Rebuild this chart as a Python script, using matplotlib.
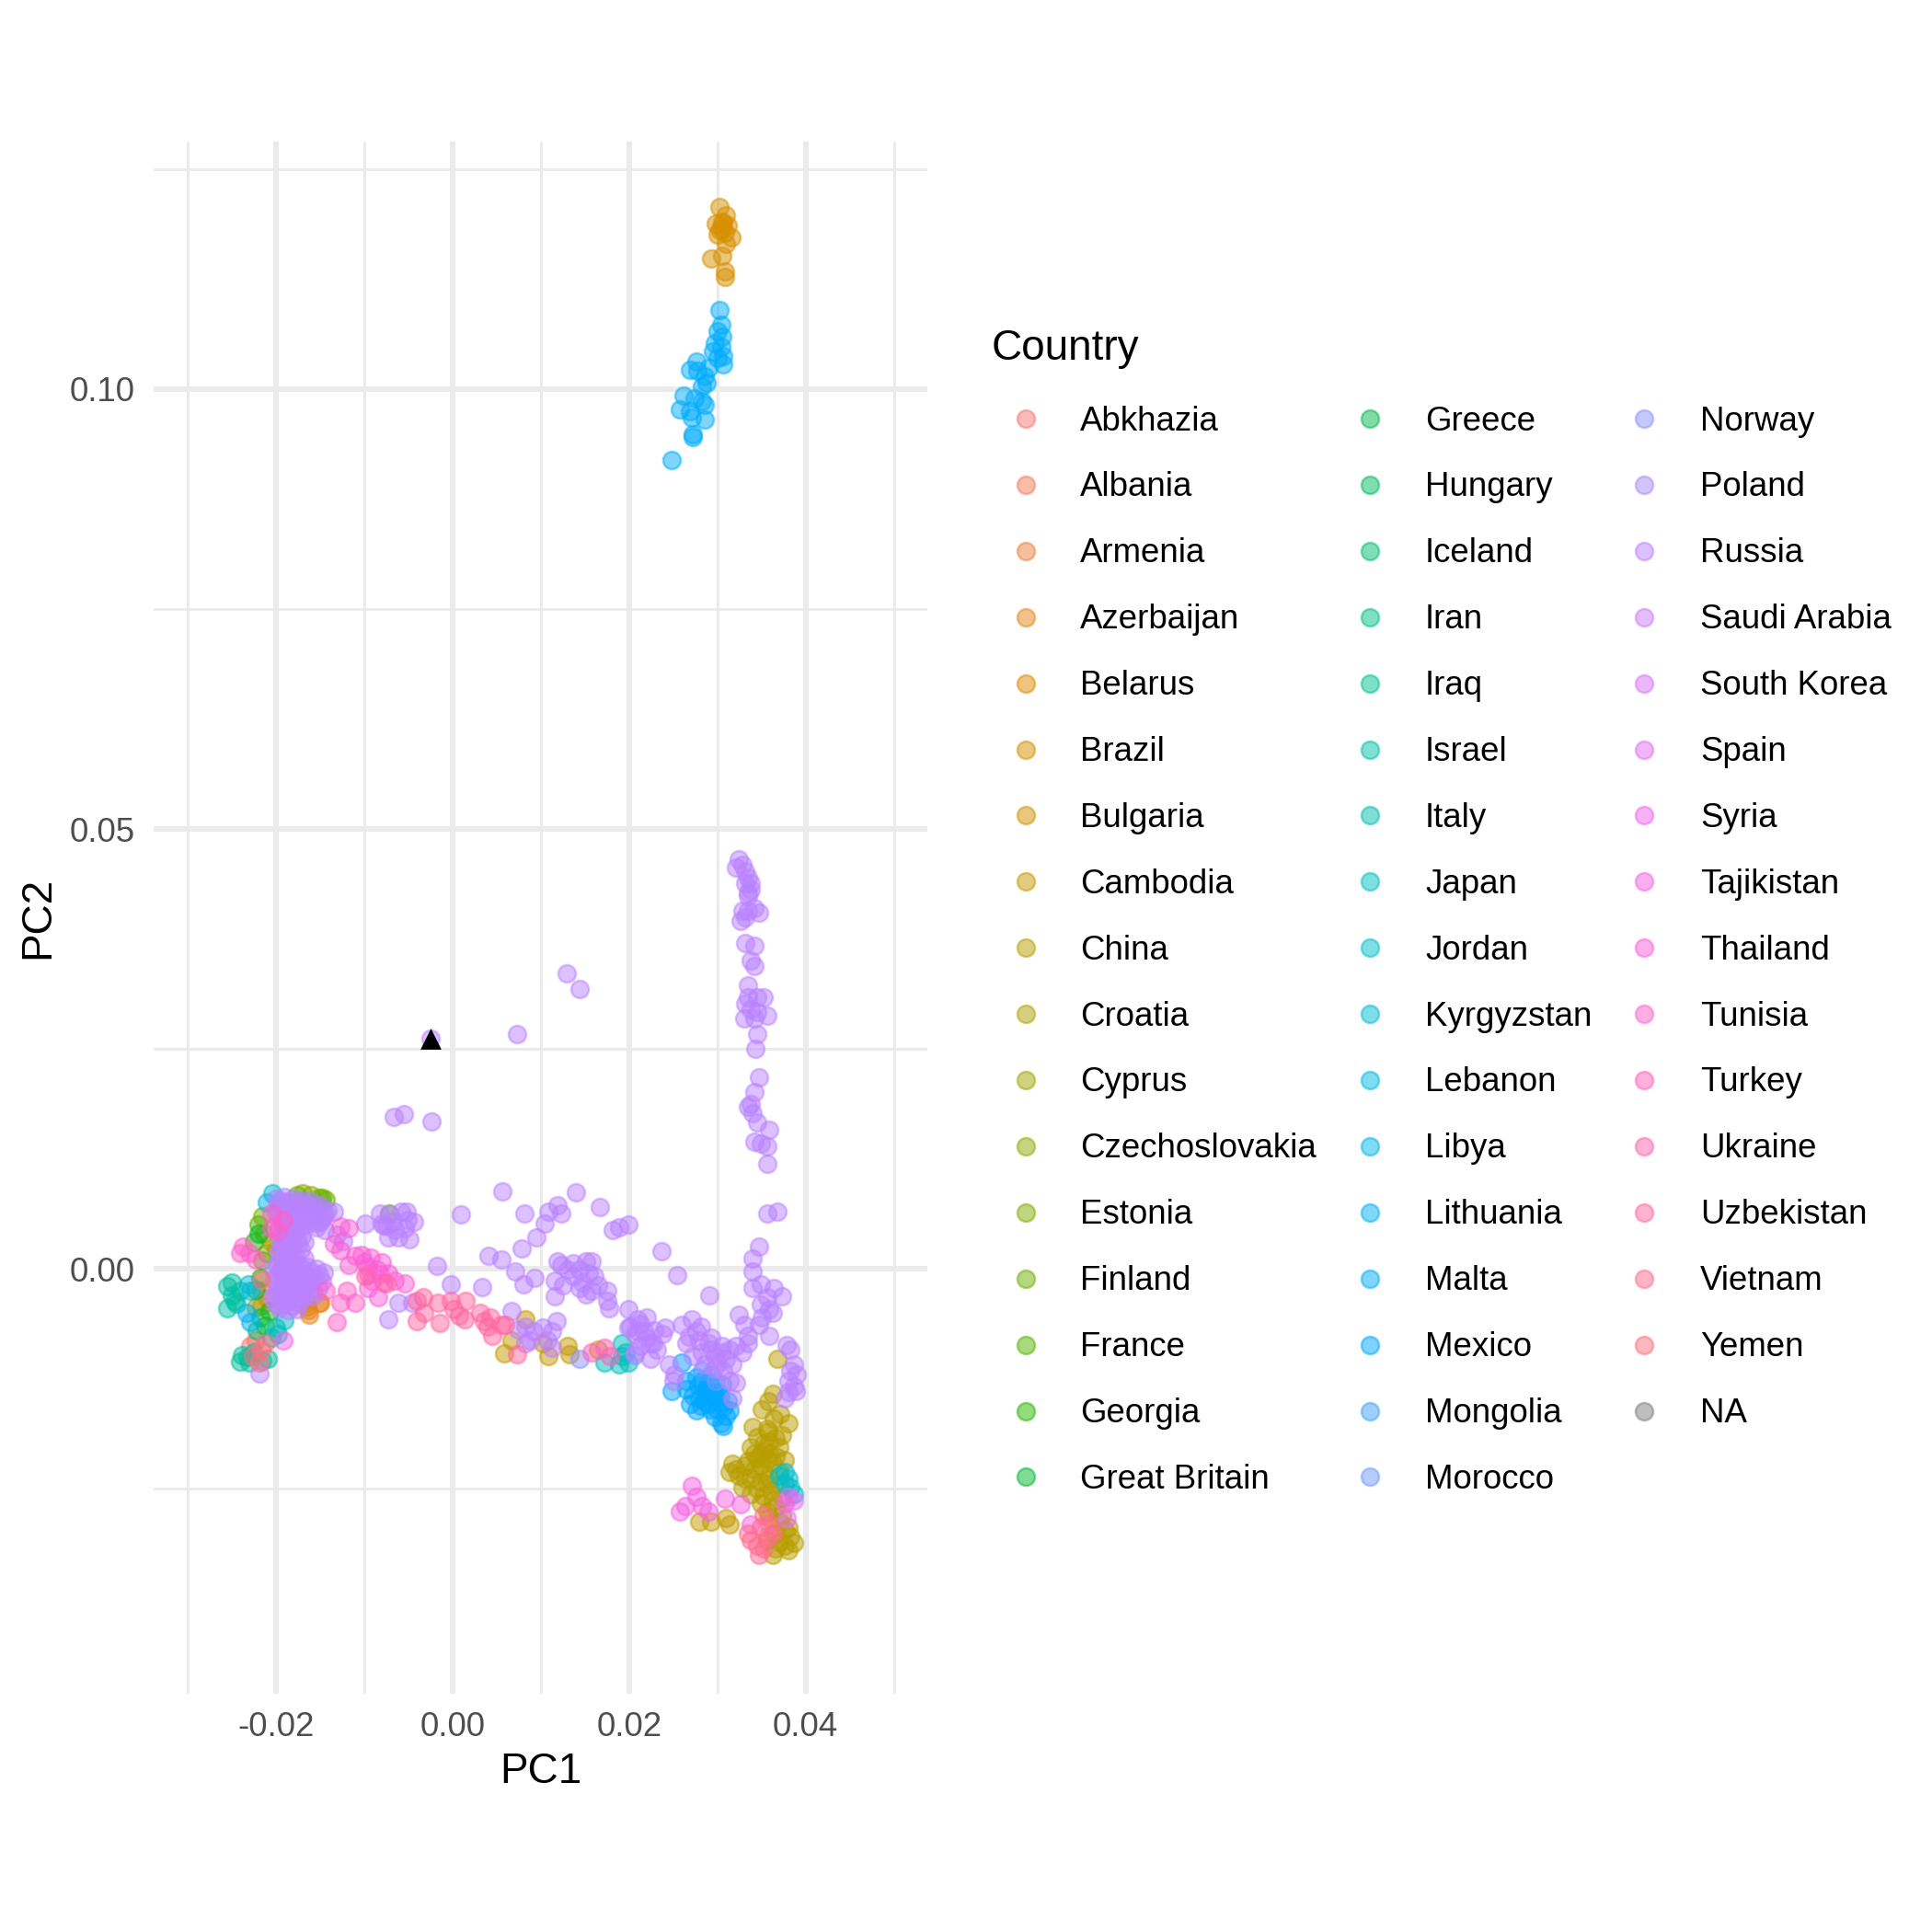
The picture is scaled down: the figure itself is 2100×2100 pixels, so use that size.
import numpy as np
import matplotlib
matplotlib.use('Agg')
import matplotlib.pyplot as plt

plt.rcParams['font.family'] = ['Liberation Sans', 'DejaVu Sans']

# Legend levels (ggplot order), NA last.
countries = ['Abkhazia', 'Albania', 'Armenia', 'Azerbaijan', 'Belarus', 'Brazil', 'Bulgaria', 'Cambodia',
             'China', 'Croatia', 'Cyprus', 'Czechoslovakia', 'Estonia', 'Finland', 'France', 'Georgia',
             'Great Britain', 'Greece', 'Hungary', 'Iceland', 'Iran', 'Iraq', 'Israel', 'Italy', 'Japan',
             'Jordan', 'Kyrgyzstan', 'Lebanon', 'Libya', 'Lithuania', 'Malta', 'Mexico', 'Mongolia',
             'Morocco', 'Norway', 'Poland', 'Russia', 'Saudi Arabia', 'South Korea', 'Spain', 'Syria',
             'Tajikistan', 'Thailand', 'Tunisia', 'Turkey', 'Ukraine', 'Uzbekistan', 'Vietnam', 'Yemen', 'NA']

# PC1 / PC2 per country.
abkhazia = [(-0.0223, -0.0081), (-0.0229, -0.0088)]
albania = [(-0.0216, -0.0025)]
armenia = [(-0.0210, -0.0033)]
azerbaijan = [(-0.0165, -0.0039), (-0.0162, -0.0052), (-0.0151, -0.0039), (-0.0169, -0.0035),
              (-0.0164, -0.0043), (-0.0150, -0.0038), (-0.0163, -0.0047)]
belarus = [(-0.0216, -0.0042)]
brazil = [(0.0302, 0.1207), (0.0310, 0.1198), (0.0298, 0.1188), (0.0305, 0.1190), (0.0312, 0.1186),
          (0.0302, 0.1181), (0.0309, 0.1178), (0.0300, 0.1176), (0.0316, 0.1172), (0.0310, 0.1165),
          (0.0293, 0.1148), (0.0305, 0.1151), (0.0309, 0.1134), (0.0309, 0.1127), (0.0304, 0.1183),
          (0.0307, 0.1188)]
bulgaria = [(0.0083, -0.0057)]
cambodia = [(0.0067, -0.0081), (0.0059, -0.0096), (0.0109, -0.0099), (0.0102, -0.0085), (0.0130, -0.0088),
            (0.0133, -0.0097), (0.0165, -0.0092), (0.0279, -0.0287), (0.0293, -0.0287), (0.0310, -0.0283),
            (0.0314, -0.0290)]
china = [(0.0368, -0.0102), (0.0363, -0.0142), (0.0350, -0.0160), (0.0364, -0.0170), (0.0380, -0.0175),
         (0.0373, -0.0189), (0.0345, -0.0191), (0.0359, -0.0196), (0.0352, -0.0207), (0.0342, -0.0210),
         (0.0370, -0.0203), (0.0376, -0.0217), (0.0363, -0.0221), (0.0349, -0.0224), (0.0331, -0.0224),
         (0.0317, -0.0221), (0.0314, -0.0231), (0.0324, -0.0235), (0.0338, -0.0238), (0.0328, -0.0249),
         (0.0338, -0.0256), (0.0356, -0.0245), (0.0370, -0.0245), (0.0349, -0.0266), (0.0363, -0.0263),
         (0.0356, -0.0276), (0.0370, -0.0287), (0.0380, -0.0294), (0.0383, -0.0304), (0.0366, -0.0301),
         (0.0387, -0.0311), (0.0376, -0.0315), (0.0356, -0.0308), (0.0363, -0.0325), (0.0349, -0.0210),
         (0.0356, -0.0182), (0.0338, -0.0203), (0.0331, -0.0238), (0.0370, -0.0231), (0.0359, -0.0210),
         (0.0352, -0.0231), (0.0358, -0.0185), (0.0366, -0.0192), (0.0352, -0.0198), (0.0345, -0.0215),
         (0.0356, -0.0216), (0.0366, -0.0213), (0.0342, -0.0228), (0.0359, -0.0238), (0.0349, -0.0242),
         (0.0345, -0.0250), (0.0361, -0.0252), (0.0352, -0.0258), (0.0366, -0.0272), (0.0373, -0.0280),
         (0.0359, -0.0283), (0.0376, -0.0297), (0.0370, -0.0310), (0.0380, -0.0320), (0.0366, -0.0318),
         (0.0373, -0.0260), (0.0321, -0.0228), (0.0335, -0.0218), (0.0340, -0.0180), (0.0371, -0.0165),
         (0.0358, -0.0150)]
croatia = [(-0.0213, 0.0040), (-0.0205, 0.0030), (-0.0200, 0.0022)]
cyprus = [(-0.0210, 0.0018), (-0.0223, -0.0044)]
czechoslovakia = [(-0.0160, 0.0084), (-0.0170, 0.0086)]
estonia = [(-0.0215, 0.0060)]
finland = [(-0.0176, 0.0084), (-0.0151, 0.0081), (-0.0144, 0.0079), (-0.0148, 0.0081)]
france = [(-0.0072, 0.0063), (-0.0220, 0.0050), (-0.0215, 0.0010)]
georgia = [(-0.0225, 0.0030), (-0.0218, -0.0010), (-0.0207, -0.0048), (-0.0212, -0.0065)]
great_britain = [(-0.0223, -0.0024), (-0.0220, 0.0040)]
greece = [(-0.0218, -0.0055)]
iceland = [(-0.0222, -0.0070)]
iraq = [(-0.0240, -0.0105), (-0.0232, -0.0100)]
israel = [(-0.0255, -0.0020), (-0.0250, -0.0030), (-0.0245, -0.0040), (-0.0255, -0.0045),
          (-0.0247, -0.0036), (-0.0240, -0.0025), (-0.0250, -0.0015), (-0.0238, -0.0098),
          (-0.0230, -0.0106), (-0.0215, -0.0104), (-0.0209, -0.0102), (-0.0225, -0.0095)]
italy = [(-0.0205, -0.0078)]
japan = [(0.0192, -0.0085), (0.0172, -0.0107), (0.0192, -0.0099), (0.0199, -0.0106), (0.0189, -0.0109),
         (0.0196, -0.0095), (-0.0198, -0.0074), (-0.0190, -0.0058), (-0.0200, -0.0067)]
jordan = [(0.0376, -0.0231), (0.0380, -0.0238), (0.0370, -0.0235), (0.0383, -0.0249), (0.0376, -0.0245),
          (0.0387, -0.0256)]
kyrgyzstan = [(-0.0204, 0.0086), (-0.0231, -0.0018)]
lebanon = [(-0.0229, -0.0025)]
libya = [(-0.0210, 0.0075)]
lithuania = [(-0.0229, -0.0060), (-0.0233, -0.0050)]
malta = [(0.0302, 0.1090), (0.0304, 0.1073), (0.0300, 0.1066), (0.0305, 0.1059), (0.0297, 0.1052),
         (0.0304, 0.1048), (0.0295, 0.1043), (0.0307, 0.1038), (0.0300, 0.1035), (0.0307, 0.1028),
         (0.0276, 0.1031), (0.0269, 0.1022), (0.0277, 0.1021), (0.0290, 0.1024), (0.0286, 0.1014),
         (0.0283, 0.1003), (0.0288, 0.1007), (0.0262, 0.0993), (0.0274, 0.0989), (0.0283, 0.0986),
         (0.0258, 0.0977), (0.0269, 0.0975), (0.0286, 0.0982), (0.0286, 0.0965), (0.0271, 0.0967),
         (0.0272, 0.0949), (0.0272, 0.0946), (0.0248, 0.0919)]
mexico = [(0.0248, -0.0139), (0.0260, -0.0107), (0.0265, -0.0127), (0.0276, -0.0123), (0.0283, -0.0127),
          (0.0293, -0.0134), (0.0272, -0.0144), (0.0279, -0.0147), (0.0290, -0.0154), (0.0300, -0.0151),
          (0.0307, -0.0158), (0.0314, -0.0161), (0.0297, -0.0168), (0.0304, -0.0175), (0.0307, -0.0179),
          (0.0276, -0.0161), (0.0269, -0.0154), (0.0286, -0.0140), (0.0300, -0.0140), (0.0265, -0.0137),
          (0.0290, -0.0130), (0.0295, -0.0145), (0.0285, -0.0150), (0.0288, -0.0136), (0.0296, -0.0140),
          (0.0303, -0.0146), (0.0281, -0.0156), (0.0292, -0.0160), (0.0310, -0.0167), (0.0300, -0.0160),
          (0.0278, -0.0133), (0.0305, -0.0132), (0.0312, -0.0150)]
mongolia = [(0.0283, -0.0116), (0.0293, -0.0120)]
morocco = [(0.0298, -0.0127)]
norway = [(0.0144, -0.0102), (0.0206, -0.0098)]
poland = [(-0.0200, 0.0080), (-0.0190, 0.0082), (-0.0180, 0.0080), (-0.0170, 0.0078), (-0.0160, 0.0076),
          (-0.0150, 0.0072), (-0.0142, 0.0066), (-0.0196, 0.0072), (-0.0186, 0.0074), (-0.0176, 0.0071),
          (-0.0166, 0.0069), (-0.0156, 0.0066), (-0.0146, 0.0060), (-0.0200, 0.0064), (-0.0190, 0.0063),
          (-0.0180, 0.0062), (-0.0170, 0.0060), (-0.0160, 0.0058), (-0.0150, 0.0054)]
russia_streak = [(0.0324, 0.0466), (0.0328, 0.0459), (0.0321, 0.0456), (0.0331, 0.0452), (0.0335, 0.0445),
                 (0.0338, 0.0438), (0.0331, 0.0438), (0.0335, 0.0428), (0.0338, 0.0431), (0.0335, 0.0424),
                 (0.0328, 0.0407), (0.0335, 0.0407), (0.0347, 0.0405), (0.0342, 0.0410), (0.0326, 0.0395),
                 (0.0331, 0.0400), (0.0331, 0.0370), (0.0342, 0.0367), (0.0338, 0.0351), (0.0342, 0.0344),
                 (0.0335, 0.0322), (0.0335, 0.0309), (0.0345, 0.0309), (0.0352, 0.0309), (0.0331, 0.0301),
                 (0.0338, 0.0295), (0.0345, 0.0292), (0.0356, 0.0288), (0.0330, 0.0285), (0.0342, 0.0285),
                 (0.0345, 0.0267), (0.0343, 0.0250), (0.0347, 0.0218), (0.0342, 0.0201), (0.0338, 0.0187),
                 (0.0335, 0.0184), (0.0340, 0.0177), (0.0345, 0.0166), (0.0359, 0.0158), (0.0342, 0.0144),
                 (0.0349, 0.0142), (0.0356, 0.0139), (0.0356, 0.0119), (0.0356, 0.0063), (0.0368, 0.0065)]
russia_scatter = [(0.0129, 0.0336), (0.0144, 0.0318), (0.0073, 0.0267), (-0.0025, 0.0262), (-0.0066, 0.0173),
                  (-0.0055, 0.0176), (-0.0024, 0.0168), (0.0056, 0.0088), (0.0010, 0.0062), (0.0081, 0.0063),
                  (0.0140, 0.0087), (0.0119, 0.0072), (0.0123, 0.0063), (0.0109, 0.0065), (0.0104, 0.0051),
                  (0.0095, 0.0036), (0.0078, 0.0023), (0.0167, 0.0070), (0.0182, 0.0044), (0.0189, 0.0047),
                  (0.0199, 0.0050), (0.0041, 0.0015), (0.0055, 0.0011), (0.0071, -0.0003), (0.0093, -0.0010),
                  (0.0080, -0.0018), (-0.0018, 0.0003), (-0.0002, -0.0018), (0.0034, -0.0021), (-0.0073, -0.0057),
                  (-0.0061, -0.0038), (-0.0046, -0.0038), (0.0067, -0.0048), (0.0118, -0.0059), (0.0347, 0.0025),
                  (0.0340, 0.0012)]
russia_middle = [(0.0119, 0.0009), (0.0123, 0.0004), (0.0116, -0.0013), (0.0116, -0.0031), (0.0125, -0.0019),
                 (0.0137, 0.0006), (0.0144, -0.0001), (0.0151, 0.0009), (0.0158, 0.0009), (0.0154, -0.0005),
                 (0.0161, -0.0008), (0.0147, -0.0015), (0.0165, -0.0019), (0.0158, -0.0025), (0.0151, -0.0029),
                 (0.0175, -0.0025), (0.0175, -0.0036), (0.0177, -0.0045), (0.0144, -0.0022), (0.0137, -0.0008),
                 (0.0130, -0.0001), (0.0199, -0.0046), (0.0074, -0.0069), (0.0083, -0.0066), (0.0092, -0.0071),
                 (0.0102, -0.0067), (0.0113, -0.0071), (0.0088, -0.0081), (0.0083, -0.0085), (0.0107, -0.0081),
                 (0.0113, -0.0090), (-0.0072, 0.0062), (-0.0058, 0.0065), (-0.0051, 0.0056), (-0.0075, 0.0049),
                 (-0.0065, 0.0044), (-0.0054, 0.0046), (-0.0073, 0.0036), (-0.0061, 0.0036), (-0.0049, 0.0034),
                 (-0.0080, 0.0051), (-0.0044, 0.0053), (-0.0052, 0.0065), (-0.0068, 0.0053), (-0.0099, 0.0051)]
russia_right = [(0.0199, -0.0067), (0.0210, -0.0057), (0.0220, -0.0055), (0.0206, -0.0074), (0.0217, -0.0071),
                (0.0224, -0.0085), (0.0213, -0.0088), (0.0224, -0.0102), (0.0237, 0.0020), (0.0254, -0.0007),
                (0.0291, -0.0030), (0.0340, -0.0003), (0.0340, -0.0022), (0.0349, -0.0018), (0.0364, -0.0022),
                (0.0373, -0.0031), (0.0356, -0.0032), (0.0349, -0.0041), (0.0359, -0.0046), (0.0350, -0.0055),
                (0.0363, -0.0050), (0.0347, -0.0064), (0.0359, -0.0076), (0.0324, -0.0052), (0.0330, -0.0064),
                (0.0335, -0.0076), (0.0335, -0.0085), (0.0201, -0.0066), (0.0210, -0.0071), (0.0220, -0.0078),
                (0.0227, -0.0085), (0.0238, -0.0074), (0.0241, -0.0067), (0.0231, -0.0092), (0.0245, -0.0109),
                (0.0206, -0.0095), (0.0260, -0.0064), (0.0271, -0.0057), (0.0276, -0.0071), (0.0265, -0.0085),
                (0.0279, -0.0081), (0.0290, -0.0085), (0.0272, -0.0099), (0.0297, -0.0099), (0.0304, -0.0095),
                (0.0314, -0.0092), (0.0321, -0.0088), (0.0328, -0.0095), (0.0317, -0.0109), (0.0307, -0.0116),
                (0.0297, -0.0113), (0.0286, -0.0109), (0.0314, -0.0127), (0.0321, -0.0130), (0.0317, -0.0147),
                (0.0251, -0.0120), (0.0250, -0.0127), (0.0378, -0.0087), (0.0383, -0.0092), (0.0387, -0.0109),
                (0.0383, -0.0116), (0.0390, -0.0120), (0.0380, -0.0127), (0.0387, -0.0134), (0.0380, -0.0140),
                (0.0389, -0.0139), (0.0376, -0.0147), (0.0283, -0.0095), (0.0293, -0.0092), (0.0300, -0.0106),
                (0.0310, -0.0102), (0.0293, -0.0078), (0.0305, -0.0088), (0.0268, -0.0077), (0.0282, -0.0066),
                (0.0213, -0.0063), (0.0228, -0.0070)]
russia_left = [(-0.0194, 0.0055), (-0.0184, 0.0053), (-0.0174, 0.0052), (-0.0164, 0.0050), (-0.0154, 0.0047),
               (-0.0198, 0.0046), (-0.0188, 0.0044), (-0.0178, 0.0043), (-0.0196, 0.0036), (-0.0186, 0.0035),
               (-0.0176, 0.0034), (-0.0168, 0.0030), (-0.0192, 0.0027), (-0.0182, 0.0026), (-0.0172, 0.0022),
               (-0.0198, 0.0018), (-0.0188, 0.0017), (-0.0178, 0.0015), (-0.0168, 0.0012), (-0.0194, 0.0008),
               (-0.0184, 0.0008), (-0.0174, 0.0004), (-0.0164, 0.0002), (-0.0154, 0.0000), (-0.0146, -0.0004),
               (-0.0204, 0.0000), (-0.0196, -0.0002), (-0.0186, -0.0003), (-0.0176, -0.0005), (-0.0166, -0.0008),
               (-0.0156, -0.0010), (-0.0148, -0.0014), (-0.0202, -0.0012), (-0.0192, -0.0013), (-0.0182, -0.0015),
               (-0.0172, -0.0017), (-0.0162, -0.0019), (-0.0152, -0.0022), (-0.0198, -0.0023), (-0.0188, -0.0025),
               (-0.0178, -0.0027), (-0.0168, -0.0028), (-0.0158, -0.0031), (-0.0204, -0.0033), (-0.0194, -0.0035),
               (-0.0184, -0.0036), (-0.0174, -0.0038), (-0.0196, -0.0045), (-0.0186, -0.0047), (-0.0176, -0.0046),
               (-0.0134, 0.0065), (-0.0145, 0.0044), (-0.0082, 0.0063), (-0.0078, 0.0049), (-0.0124, 0.0032),
               (-0.0131, 0.0039), (-0.0219, -0.0119), (-0.0195, 0.0078), (-0.0185, 0.0077), (-0.0175, 0.0075),
               (-0.0165, 0.0073), (-0.0155, 0.0070), (-0.0145, 0.0064), (-0.0198, 0.0068), (-0.0188, 0.0068),
               (-0.0178, 0.0066), (-0.0168, 0.0064), (-0.0158, 0.0062), (-0.0148, 0.0057), (-0.0195, 0.0059),
               (-0.0185, 0.0058), (-0.0175, 0.0056), (-0.0165, 0.0055), (-0.0155, 0.0052), (-0.0193, 0.0050),
               (-0.0183, 0.0048), (-0.0173, 0.0047), (-0.0191, 0.0040), (-0.0181, 0.0039), (-0.0171, 0.0037),
               (-0.0193, 0.0031), (-0.0183, 0.0030), (-0.0175, 0.0028), (-0.0195, 0.0022), (-0.0185, 0.0021),
               (-0.0191, 0.0013), (-0.0181, 0.0012), (-0.0199, 0.0004), (-0.0189, 0.0004), (-0.0179, 0.0001),
               (-0.0169, -0.0001), (-0.0159, -0.0004), (-0.0151, -0.0007), (-0.0199, -0.0007), (-0.0189, -0.0008),
               (-0.0179, -0.0010), (-0.0169, -0.0012), (-0.0159, -0.0015), (-0.0197, -0.0018), (-0.0187, -0.0019),
               (-0.0177, -0.0021), (-0.0167, -0.0023), (-0.0157, -0.0026), (-0.0200, -0.0028), (-0.0190, -0.0030),
               (-0.0180, -0.0032), (-0.0170, -0.0033), (-0.0191, -0.0041), (-0.0181, -0.0042), (-0.0200, -0.0040)]
russia = russia_streak + russia_scatter + russia_middle + russia_right + russia_left
spain = [(0.0380, -0.0259), (0.0387, -0.0263), (0.0378, -0.0283)]
syria = [(-0.0191, -0.0081)]
tajikistan = [(0.0271, -0.0247), (0.0276, -0.0259), (0.0264, -0.0270), (0.0258, -0.0276), (0.0283, -0.0270),
              (0.0290, -0.0276), (0.0309, -0.0261), (0.0326, -0.0268), (0.0376, -0.0266), (0.0338, -0.0290)]
thailand = [(-0.0103, 0.0016), (-0.0092, 0.0013), (-0.0080, 0.0008), (-0.0096, 0.0002), (-0.0085, -0.0001),
            (-0.0073, -0.0005), (-0.0091, -0.0013), (-0.0078, -0.0015), (-0.0065, -0.0013), (-0.0054, -0.0017),
            (-0.0084, -0.0032), (-0.0096, -0.0022), (-0.0127, 0.0048), (-0.0117, 0.0046), (-0.0134, 0.0028),
            (-0.0127, 0.0021), (-0.0110, 0.0015), (-0.0100, 0.0007), (-0.0117, 0.0004), (-0.0096, -0.0006),
            (-0.0082, -0.0006)]
tunisia = [(-0.0205, 0.0063), (-0.0191, 0.0056), (-0.0205, 0.0046), (-0.0198, 0.0043), (-0.0237, 0.0025),
           (-0.0230, 0.0018), (-0.0223, 0.0011), (-0.0240, 0.0018), (-0.0127, -0.0039), (-0.0120, -0.0025),
           (-0.0131, -0.0060), (-0.0110, -0.0039), (-0.0144, -0.0025)]
turkey = [(0.0158, -0.0095), (0.0172, -0.0090), (0.0178, -0.0099)]
uzbekistan = [(-0.0099, -0.0008), (-0.0075, -0.0017), (-0.0040, -0.0036), (-0.0033, -0.0032), (-0.0032, -0.0050),
              (-0.0040, -0.0059), (-0.0014, -0.0062), (-0.0016, -0.0038), (-0.0002, -0.0036), (0.0001, -0.0046),
              (0.0008, -0.0053), (0.0015, -0.0036), (0.0014, -0.0057), (0.0031, -0.0050), (0.0036, -0.0059),
              (0.0043, -0.0055), (0.0040, -0.0066), (0.0045, -0.0076), (0.0055, -0.0064), (0.0060, -0.0064),
              (0.0073, -0.0097)]
vietnam = [(0.0352, -0.0280), (0.0349, -0.0294), (0.0359, -0.0290), (0.0338, -0.0308), (0.0345, -0.0315),
           (0.0356, -0.0304), (0.0363, -0.0301), (0.0352, -0.0318), (0.0347, -0.0325), (0.0335, -0.0301)]
yemen = [(-0.0216, -0.0092), (-0.0226, -0.0099), (-0.0219, -0.0106), (-0.0212, -0.0085), (-0.0217, -0.0012)]

# the highlighted sample (black triangle)
sample = [(-0.0025, 0.0262)]

points_by_country = {
    'Abkhazia': abkhazia, 'Albania': albania, 'Armenia': armenia, 'Azerbaijan': azerbaijan,
    'Belarus': belarus, 'Brazil': brazil, 'Bulgaria': bulgaria, 'Cambodia': cambodia, 'China': china,
    'Croatia': croatia, 'Cyprus': cyprus, 'Czechoslovakia': czechoslovakia, 'Estonia': estonia,
    'Finland': finland, 'France': france, 'Georgia': georgia, 'Great Britain': great_britain,
    'Greece': greece, 'Iceland': iceland, 'Iraq': iraq, 'Israel': israel, 'Italy': italy, 'Japan': japan,
    'Jordan': jordan, 'Kyrgyzstan': kyrgyzstan, 'Lebanon': lebanon, 'Libya': libya, 'Lithuania': lithuania,
    'Malta': malta, 'Mexico': mexico, 'Mongolia': mongolia, 'Morocco': morocco, 'Norway': norway,
    'Poland': poland, 'Russia': russia, 'Spain': spain, 'Syria': syria, 'Tajikistan': tajikistan,
    'Thailand': thailand, 'Tunisia': tunisia, 'Turkey': turkey, 'Uzbekistan': uzbekistan,
    'Vietnam': vietnam, 'Yemen': yemen,
}

x_ticks = [-0.02, 0.00, 0.02, 0.04]
x_tick_labels = ['-0.02', '0.00', '0.02', '0.04']
y_ticks = [0.00, 0.05, 0.10]
y_tick_labels = ['0.00', '0.05', '0.10']


def hclColor(h, c=100.0, l=65.0):
    """ggplot-style hue colour (polar LUV -> sRGB)."""
    hr = np.deg2rad(h)
    u, v = c * np.cos(hr), c * np.sin(hr)
    xn, yn, zn = 95.047, 100.0, 108.883
    y = yn * ((l + 16.0) / 116.0) ** 3
    den = xn + 15 * yn + 3 * zn
    up = u / (13 * l) + 4 * xn / den
    vp = v / (13 * l) + 9 * yn / den
    x = 9.0 * y * up / (4 * vp)
    z = y * (12 - 3 * up - 20 * vp) / (4 * vp)
    x, y, z = x / 100, y / 100, z / 100
    rgb = [3.240479 * x - 1.537150 * y - 0.498535 * z,
           -0.969256 * x + 1.875992 * y + 0.041556 * z,
           0.055648 * x - 0.204043 * y + 1.057311 * z]
    out = []
    for ch in rgb:
        ch = 12.92 * ch if ch <= 0.0031308 else 1.055 * ch ** (1 / 2.4) - 0.055
        out.append(min(max(ch, 0.0), 1.0))
    return tuple(out)


nLevels = len(countries) - 1
colors = [hclColor(15 + 360.0 * i / nLevels) for i in range(nLevels)] + [(0.498, 0.498, 0.498)]
colorOf = dict(zip(countries, colors))

alpha = 0.5
pointSize = 21
edgeWidth = 0.6

fig = plt.figure(figsize=(7, 7), dpi=300)
fig.patch.set_facecolor('white')
ax = fig.add_axes([0.0797, 0.1233, 0.4004, 0.8033])

for name in countries:
    if name not in points_by_country:
        continue
    pts = np.array(points_by_country[name])
    rgba = colorOf[name] + (alpha,)
    ax.scatter(pts[:, 0], pts[:, 1], s=pointSize, facecolor=rgba, edgecolor=rgba, linewidths=edgeWidth, zorder=2)

samplePts = np.array(sample)
ax.scatter(samplePts[:, 0], samplePts[:, 1], marker='^', s=30, color='black', linewidths=0, zorder=3)

ax.set_xlim(-0.0338, 0.0538)
ax.set_ylim(-0.0483, 0.1281)
ax.set_xticks(x_ticks)
ax.set_xticklabels(x_tick_labels)
ax.set_yticks(y_ticks)
ax.set_yticklabels(y_tick_labels)
ax.set_xticks([-0.03, -0.01, 0.01, 0.03, 0.05], minor=True)
ax.set_yticks([-0.025, 0.025, 0.075, 0.125], minor=True)
ax.grid(which='major', color='#EBEBEB', linewidth=1.42)
ax.grid(which='minor', color='#EBEBEB', linewidth=0.71)
ax.set_axisbelow(True)
ax.tick_params(which='both', length=0)
ax.tick_params(axis='x', pad=4.5, labelsize=8.8, labelcolor='#4D4D4D')
ax.tick_params(axis='y', pad=5, labelsize=8.8, labelcolor='#4D4D4D')
for spine in ax.spines.values():
    spine.set_visible(False)
ax.set_xlabel('PC1', fontsize=11, labelpad=2.3)
ax.set_ylabel('PC2', fontsize=11, labelpad=3)

# Legend, laid out in pixel coordinates like ggplot's guide.
lax = fig.add_axes([0, 0, 1, 1])
lax.set_xlim(0, 2100)
lax.set_ylim(2100, 0)
lax.axis('off')
lax.text(1078, 379, 'Country', fontsize=11, ha='left', va='center')
keyX = [1115, 1489, 1787]
labelX = [1174, 1549, 1848]
rowY0, rowStep, perColumn = 455, 71.9, 17
for i, name in enumerate(countries):
    col, row = i // perColumn, i % perColumn
    yy = rowY0 + row * rowStep
    rgba = colorOf[name] + (alpha,)
    lax.scatter([keyX[col]], [yy], s=pointSize, facecolor=rgba, edgecolor=rgba, linewidths=edgeWidth)
    lax.text(labelX[col], yy + 3, name, fontsize=8.8, ha='left', va='center')

fig.savefig('out.png', dpi=300)
